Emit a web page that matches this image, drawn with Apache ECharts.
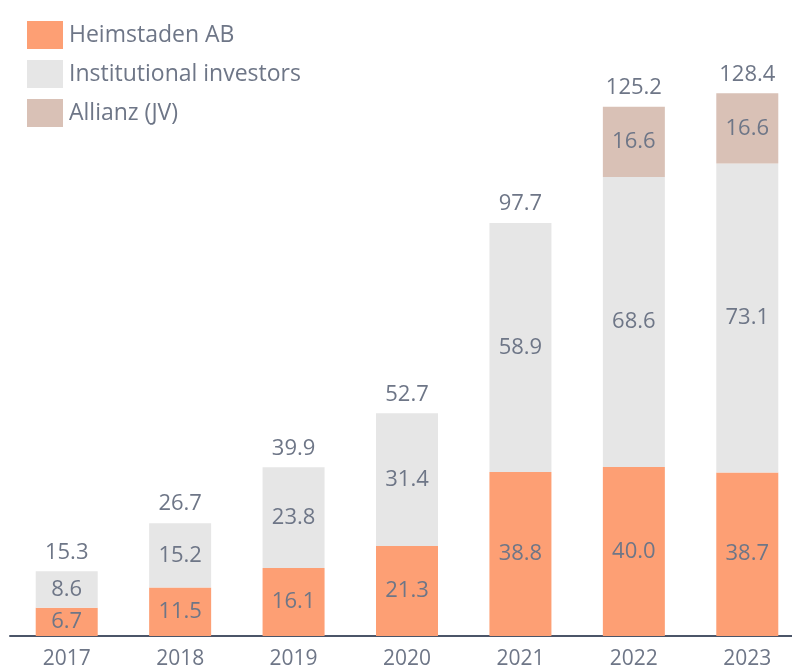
<!DOCTYPE html>
<html>
<head>
<meta charset="utf-8">
<script src="https://cdn.jsdelivr.net/npm/echarts@6/dist/echarts.min.js"></script>
<style>
html, body { margin: 0; padding: 0; background: #fff; overflow: hidden; }
/* 容器略宽于窗口，使最右侧柱子位置与原图一致 */
#main { width: 806px; height: 671px; }
</style>
</head>
<body>
<div id="main"></div>
<script>
// 数据
var years = ['2017', '2018', '2019', '2020', '2021', '2022', '2023'];
var heimstaden = [6.7, 11.5, 16.1, 21.3, 38.8, 40.0, 38.7];
var institutional = [8.6, 15.2, 23.8, 31.4, 58.9, 68.6, 73.1];
var allianz = [null, null, null, null, null, 16.6, 16.6];
var totals = [15.3, 26.7, 39.9, 52.7, 97.7, 125.2, 128.4];

var textColor = '#6e7687';
var fontFamily = '"Open Sans", "Noto Sans", sans-serif';

var chart = echarts.init(document.getElementById('main'));

function innerLabel() {
    return {
        show: true,
        position: 'inside',
        color: textColor,
        fontSize: 22,
        fontFamily: fontFamily,
        formatter: function (p) { return p.value == null ? '' : p.value.toFixed(1); }
    };
}

var option = {
    animation: false,
    legend: {
        orient: 'vertical',
        left: 22,
        top: 16,
        itemWidth: 36,
        itemHeight: 28,
        itemGap: 11,
        icon: 'rect',
        textStyle: { color: textColor, fontSize: 23, fontFamily: fontFamily, padding: [0, 0, 0, 1] },
        data: ['Heimstaden AB', 'Institutional investors', 'Allianz (JV)']
    },
    grid: { left: 10, right: 2, top: 2, bottom: 35 },
    xAxis: {
        type: 'category',
        data: years,
        axisLine: { lineStyle: { color: '#4b5568', width: 2 } },
        axisTick: { show: false },
        axisLabel: { color: textColor, fontSize: 21, fontFamily: fontFamily, margin: 13 }
    },
    yAxis: {
        type: 'value',
        min: 0,
        max: 150,
        show: false,
        splitLine: { show: false }
    },
    series: [
        {
            name: 'Heimstaden AB', type: 'bar', stack: 'a', barWidth: 62,
            itemStyle: { color: '#fd9f74' },
            label: innerLabel(),
            data: heimstaden
        },
        {
            name: 'Institutional investors', type: 'bar', stack: 'a',
            itemStyle: { color: '#e6e6e6' },
            label: innerLabel(),
            data: institutional
        },
        {
            name: 'Allianz (JV)', type: 'bar', stack: 'a',
            itemStyle: { color: '#d9c1b6' },
            label: innerLabel(),
            data: allianz
        },
        {
            // 合计标签
            name: 'total', type: 'bar', stack: 'a',
            itemStyle: { color: 'transparent' },
            label: {
                show: true,
                position: 'top',
                distance: 8,
                color: textColor,
                fontSize: 22,
                fontFamily: fontFamily,
                formatter: function (p) { return totals[p.dataIndex].toFixed(1); }
            },
            data: years.map(function () { return 0; })
        }
    ]
};

chart.setOption(option);
</script>
</body>
</html>
